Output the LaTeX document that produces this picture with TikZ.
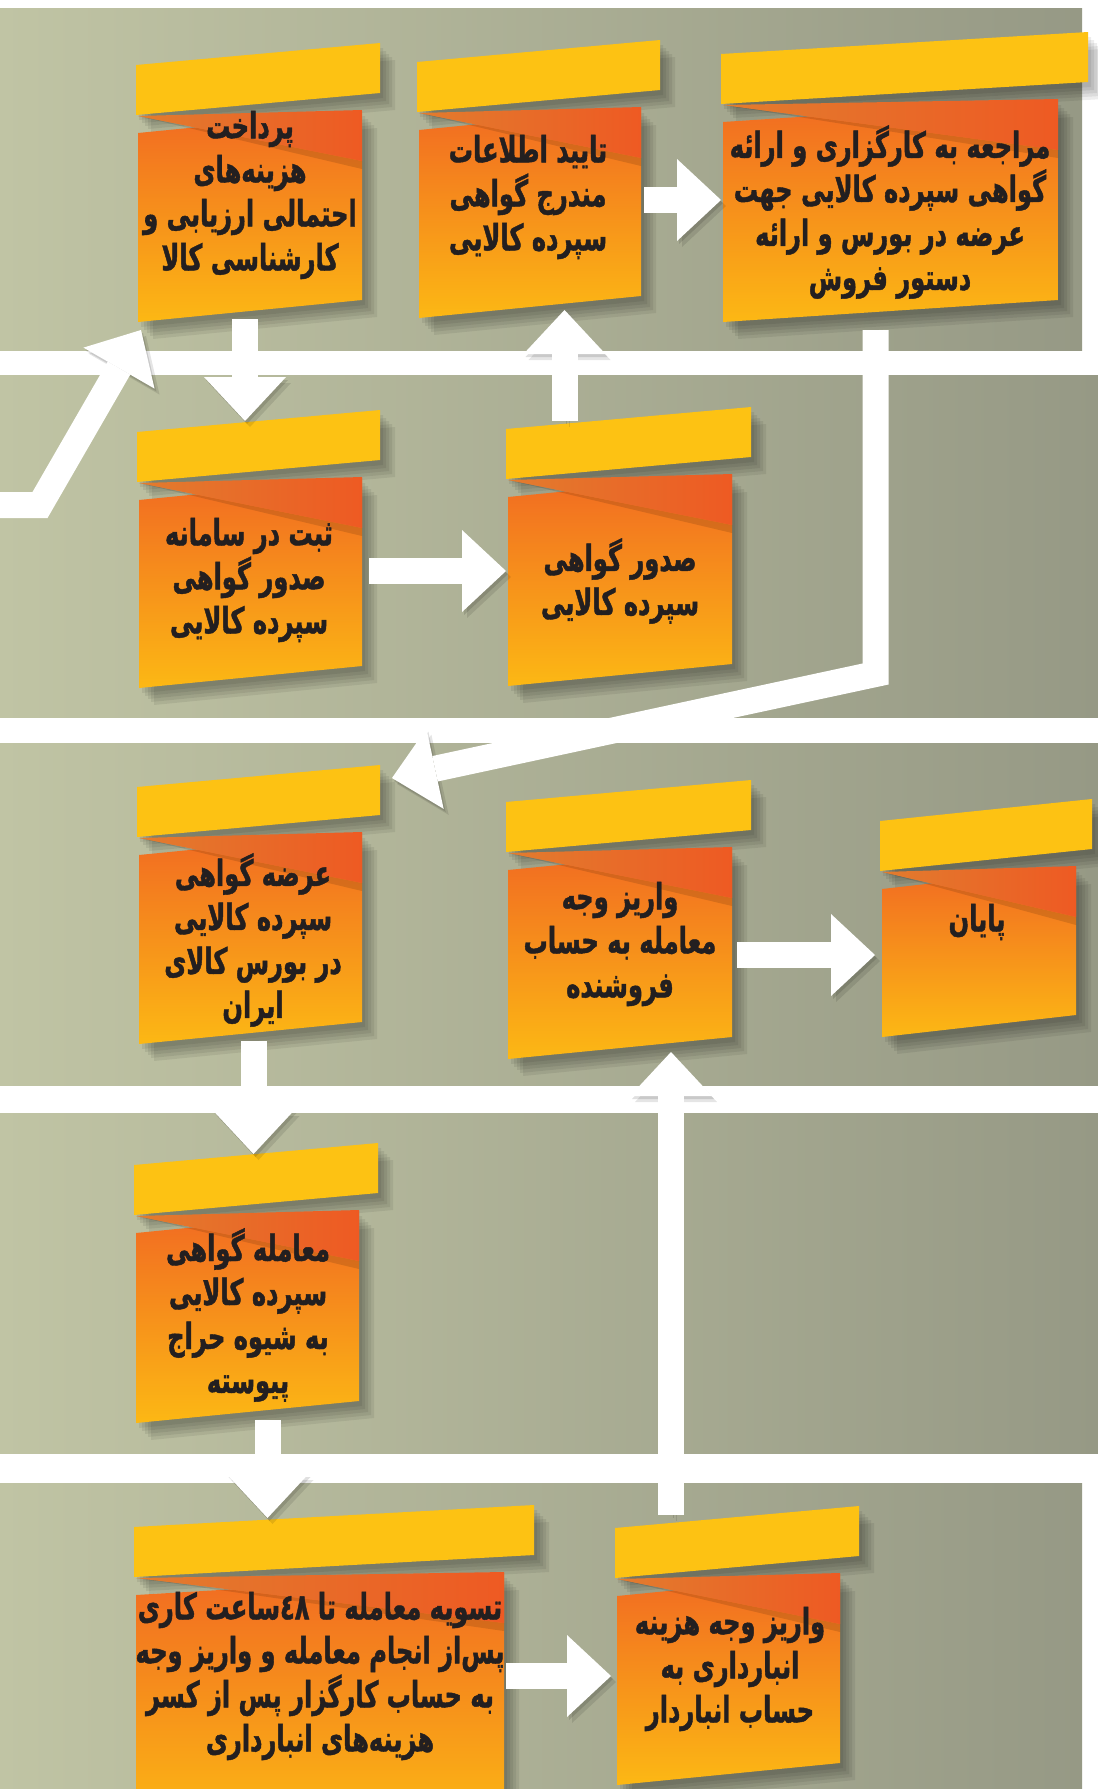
\documentclass[tikz,border=0pt]{standalone}
\usepackage{fontspec}
\usetikzlibrary{arrows.meta, calc, positioning}
\TeXXeTstate=1
\newfontfamily\persianfont[Script=Arabic, FakeStretch=0.67, BoldFeatures={FakeBold=1.2}]{DejaVu Sans}

\definecolor{RibbonYellow}{RGB}{253,194,19}
\definecolor{BodyTop}{RGB}{241,106,34}
\definecolor{BodyBottom}{RGB}{252,184,20}
\definecolor{FoldLeft}{RGB}{226,124,46}
\definecolor{FoldRight}{RGB}{238,90,35}
\definecolor{Ink}{RGB}{35,31,32}
\definecolor{BandLeft}{RGB}{192,196,164}
\definecolor{BandRight}{RGB}{150,153,133}

\newcommand{\fa}[1]{\beginR #1\endR}

% one ribbon card: name, left x, top y, banner width, body width, body drop
\newcommand{\ribbon}[6]{%
    \foreach \s in {3,6,9,12,15}
        \fill[black, opacity=.07, shift={(\s,\s+2)}]
            (#2,#3) -- ({#2+#4},{#3-22}) -- ({#2+#4},{#3+28}) -- (#2,{#3+50}) -- cycle
            ({#2+2},{#3+68}) -- ({#2+#5},{#3+46}) -- ({#2+#5},{#3+#6-22}) -- ({#2+2},{#3+#6}) -- cycle;
    \shade[bodyfill] ({#2+2},{#3+68}) -- ({#2+#5},{#3+46}) -- ({#2+#5},{#3+#6-22}) -- ({#2+2},{#3+#6}) -- cycle;
    \fill[black, opacity=.12] ({#2+2},{#3+51}) -- ({#2+#5},{#3+96}) -- ({#2+#5},{#3+104}) -- cycle;
    \shade[foldfill] ({#2+2},{#3+51}) -- ({#2+#5},{#3+45}) -- ({#2+#5},{#3+96}) -- cycle;
    \fill[banner] (#2,#3) -- ({#2+#4},{#3-22}) -- ({#2+#4},{#3+28}) -- (#2,{#3+50}) -- cycle;
    \coordinate (#1-n) at ({#2+#4/2},{#3-11});
    \coordinate (#1-s) at ({#2+1+#5/2},{#3+#6-11});
    \coordinate (#1-e) at ({#2+#5},{#3+145});
    \coordinate (#1-w) at (#2,{#3+145});
    \coordinate (#1-sw) at ({#2+2},{#3+#6});
    \coordinate (#1-ne) at ({#2+#4},{#3-22});
}

\tikzset{
    banner/.style={fill=RibbonYellow},
    bodyfill/.style={top color=BodyTop, bottom color=BodyBottom},
    foldfill/.style={left color=FoldLeft, right color=FoldRight},
    band/.style={left color=BandLeft, right color=BandRight},
    stepnote/.style={
        font=\persianfont\bfseries\fontsize{18}{22}\selectfont,
        text=Ink, align=center, inner sep=0pt
    },
    flow/.style={
        draw=white, line width=13pt, line join=miter,
        -{Triangle[length=22pt, width=41pt, line width=0pt]},
        preaction={draw=black, opacity=.1, transform canvas={shift={(2.5pt,-3pt)}}},
        preaction={draw=black, opacity=.12, transform canvas={shift={(1pt,-1.5pt)}}}
    }
}

\begin{document}
\begin{tikzpicture}[x=0.5pt, y=-0.5pt]
    \useasboundingbox (0,0) rectangle (1098,1789);
    \clip (0,0) rectangle (1098,1789);
    \fill[white] (0,0) rectangle (1098,1789);

    % background bands
    \fill[band] (0,8) rectangle (1082,350);
    \fill[band] (0,375) rectangle (1098,717);
    \fill[band] (0,743) rectangle (1098,1085);
    \fill[band] (0,1113) rectangle (1098,1453);
    \fill[band] (0,1483) rectangle (1082,1789);

    % cards
    \ribbon{A}{136}{65}{244}{226}{257}
    \ribbon{B}{417}{62}{243}{224}{256}
    \ribbon{C}{721}{54}{367}{337}{268}
    \ribbon{D}{137}{432}{243}{225}{256}
    \ribbon{E}{506}{429}{245}{226}{257}
    \ribbon{F}{137}{787}{243}{225}{257}
    \ribbon{G}{506}{802}{245}{226}{257}
    \ribbon{H}{880}{821}{212}{196}{216}
    \ribbon{I}{134}{1165}{244}{225}{258}
    \ribbon{J}{134}{1527}{400}{370}{300}
    \ribbon{K}{615}{1528}{244}{225}{257}

    % card texts
    \node[stepnote] (A-text) at (250,195) {\fa{پرداخت}\\ \fa{هزینه^^^^200cهای}\\ \fa{احتمالی ارزیابی و}\\ \fa{کارشناسی کالا}};
    \node[stepnote] (B-text) at (528,197) {\fa{تایید اطلاعات}\\ \fa{مندرج گواهی}\\ \fa{سپرده کالایی}};
    \node[stepnote] (C-text) at (890,212) {\fa{مراجعه به کارگزاری و ارائه}\\ \fa{گواهی سپرده کالایی جهت}\\ \fa{عرضه در بورس و ارائه}\\ \fa{دستور فروش}};
    \node[stepnote] (D-text) at (249,580) {\fa{ثبت در سامانه}\\ \fa{صدور گواهی}\\ \fa{سپرده کالایی}};
    \node[stepnote] (E-text) at (620,581) {\fa{صدور گواهی}\\ \fa{سپرده کالایی}};
    \node[stepnote] (F-text) at (253,940) {\fa{عرضه گواهی}\\ \fa{سپرده کالایی}\\ \fa{در بورس کالای}\\ \fa{ایران}};
    \node[stepnote] (G-text) at (620,944) {\fa{واریز وجه}\\ \fa{معامله به حساب}\\ \fa{فروشنده}};
    \node[stepnote] (H-text) at (977,922) {\fa{پایان}};
    \node[stepnote] (I-text) at (248,1315) {\fa{معامله گواهی}\\ \fa{سپرده کالایی}\\ \fa{به شیوه حراج}\\ \fa{پیوسته}};
    \node[stepnote] (J-text) at (320,1676) {\fa{تسویه معامله تا ٤٨ساعت کاری}\\ \fa{پس^^^^200cاز انجام معامله و واریز وجه}\\ \fa{به حساب کارگزار پس از کسر}\\ \fa{هزینه^^^^200cهای انبارداری}};
    \node[stepnote] (K-text) at (730,1669) {\fa{واریز وجه هزینه}\\ \fa{انبارداری به}\\ \fa{حساب انباردار}};

    % flow arrows
    \coordinate (entry) at (0,505);
    \draw[flow] (entry) -- ++(40,0) -- ($(A-sw)+(3,8)$);
    \draw[flow] ($(A-s)+(-5,8)$) -- ($(A-s |- D-n)+(-5,0)$);
    \draw[flow] ($(D-e)+(7,-6)$) -- ($(E-w |- D-e)+(0,-6)$);
    \draw[flow] ($(E-n)+(-64,3)$) -- ($(B-s -| E-n)+(-64,3)$);
    \draw[flow] ($(B-e)+(3,-7)$) -- ($(C-w |- B-e)+(0,-7)$);
    \draw[flow] ($(C-s)+(-15,19)$) -- ++(0,344) -- ($(F-ne)+(12,13)$);
    \draw[flow] ($(F-s)+(3,8)$) -- ($(F-s |- I-n)+(3,0)$);
    \draw[flow] ($(I-s)+(20,8)$) -- ($(I-s |- J-n)+(20,2)$);
    \draw[flow] ($(J-e)+(2,4)$) -- ($(K-w |- J-e)+(-4,4)$);
    \draw[flow] ($(K-n)+(-66,-2)$) -- ($(G-s -| K-n)+(-66,4)$);
    \draw[flow] ($(G-e)+(5,8)$) -- ($(H-w |- G-e)+(-5,8)$);
\end{tikzpicture}
\end{document}
